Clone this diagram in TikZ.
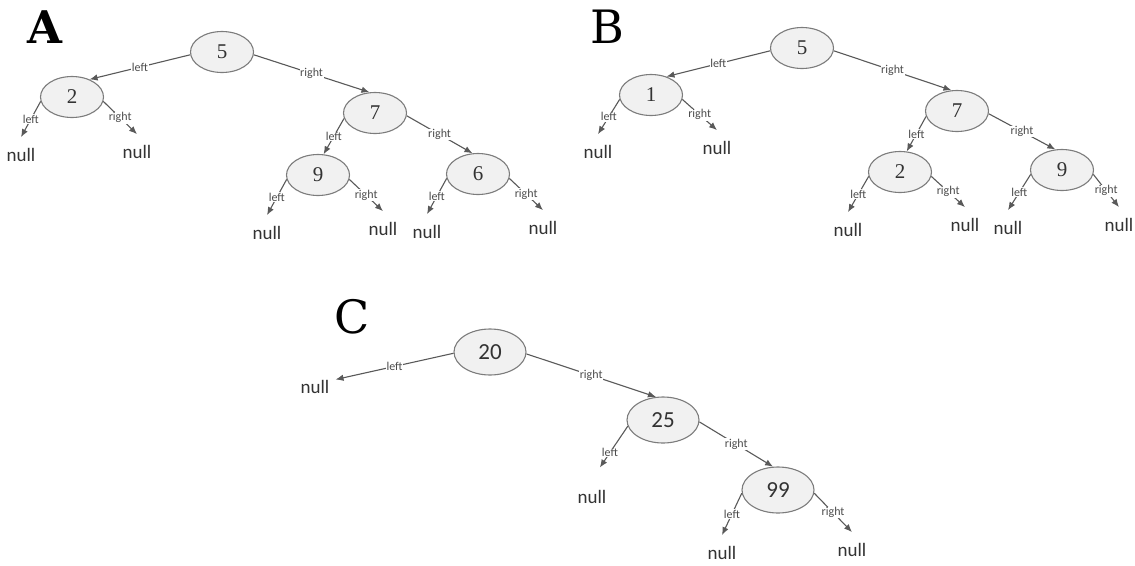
\documentclass[tikz,border=0pt]{standalone}
\usepackage{fontspec}
\newfontfamily\calfont{Carlito}
\newfontfamily\numfont{Liberation Serif}
\newfontfamily\titlefont{DejaVu Serif}
\usetikzlibrary{
	arrows.meta,
	positioning,
	shapes.geometric,
}
\definecolor{NodeFill}{HTML}{F1F1F1}
\definecolor{NodeLine}{HTML}{7C7C7C}
\definecolor{LinkGray}{HTML}{595959}

\begin{document}
\begin{tikzpicture} [
			x=1pt,y=-1pt,on grid,
			every node/.style={align=center},
			val/.style={ellipse,draw=NodeLine,fill=NodeFill,line width=1.1pt,minimum width=63pt,minimum height=41pt,inner sep=0pt,text=black!80,font=\numfont\fontsize{21}{21}\selectfont},
			bigval/.style={val,minimum width=72pt,minimum height=46pt,font=\calfont\fontsize{23}{23}\selectfont},
			nul/.style={inner xsep=6pt,inner ysep=11pt,text=black!80,font=\calfont\fontsize{19}{19}\selectfont},
			lbl/.style={fill=white,inner sep=0.6pt,text=black!70,font=\calfont\fontsize{12}{12}\selectfont},
			link/.style={draw=LinkGray,line width=1.1pt,-{Latex[length=8pt,width=6.5pt]}},
			title/.style={font=\titlefont\fontsize{46}{46}\selectfont}
		]
		\path[use as bounding box] (0,0) rectangle (1135,565);

		% tree A
		\node [title,font=\titlefont\bfseries\fontsize{45}{45}\selectfont] (titleA) at (45,27) {A};
		\node [val] (a5) at (222,52) {5};
		\node [val, below left=45pt and 150pt of a5] (a2) {2};
		\node [val, below right=61pt and 153pt of a5] (a7) {7};
		\node [val, below left=62pt and 57pt of a7] (a9) {9};
		\node [val, below right=61pt and 103pt of a7] (a6) {6};
		\node [nul, below left=58pt and 51pt of a2] (a2l) {null};
		\node [nul, below right=55pt and 65pt of a2] (a2r) {null};
		\node [nul, below left=58pt and 51pt of a9] (a9l) {null};
		\node [nul, below right=54pt and 65pt of a9] (a9r) {null};
		\node [nul, below left=58pt and 51pt of a6] (a6l) {null};
		\node [nul, below right=54pt and 65pt of a6] (a6r) {null};

		\draw[link] (a5.185) -- node[lbl] {left} (a2.45);
		\draw[link] (a5.-5) -- node[lbl] {right} (a7.105);
		\draw[link] (a7.190) -- node[lbl] {left} (a9.75);
		\draw[link] (a7.-5) -- node[lbl] {right} (a6.105);
		\draw[link] (a2.188) -- node[lbl] {left} (a2l.north);
		\draw[link] (a2.-8) -- node[lbl] {right} (a2r.north);
		\draw[link] (a9.188) -- node[lbl] {left} (a9l.north);
		\draw[link] (a9.-8) -- node[lbl] {right} (a9r.north);
		\draw[link] (a6.188) -- node[lbl] {left} (a6l.north);
		\draw[link] (a6.-8) -- node[lbl] {right} (a6r.north);

		% tree B
		\node [title] (titleB) at (607,27) {B};
		\node [val] (b5) at (802,48) {5};
		\node [val, below left=47pt and 151pt of b5] (b1) {1};
		\node [val, below right=63pt and 155pt of b5] (b7) {7};
		\node [val, below left=61pt and 57pt of b7] (b2) {2};
		\node [val, below right=59pt and 105pt of b7] (b9) {9};
		\node [nul, below left=57pt and 53pt of b1] (b1l) {null};
		\node [nul, below right=53pt and 66pt of b1] (b1r) {null};
		\node [nul, below left=58pt and 52pt of b2] (b2l) {null};
		\node [nul, below right=53pt and 65pt of b2] (b2r) {null};
		\node [nul, below left=58pt and 54pt of b9] (b9l) {null};
		\node [nul, below right=55pt and 57pt of b9] (b9r) {null};

		\draw[link] (b5.185) -- node[lbl] {left} (b1.50);
		\draw[link] (b5.-5) -- node[lbl] {right} (b7.105);
		\draw[link] (b7.190) -- node[lbl] {left} (b2.72);
		\draw[link] (b7.-5) -- node[lbl] {right} (b9.108);
		\draw[link] (b1.188) -- node[lbl] {left} (b1l.north);
		\draw[link] (b1.-8) -- node[lbl] {right} (b1r.north);
		\draw[link] (b2.188) -- node[lbl] {left} (b2l.north);
		\draw[link] (b2.-8) -- node[lbl] {right} (b2r.north);
		\draw[link] (b9.188) -- node[lbl] {left} (b9l.north);
		\draw[link] (b9.-8) -- node[lbl] {right} (b9r.north);

		% tree C
		\node [title] (titleC) at (352,317) {C};
		\node [bigval] (c20) at (490,352) {20};
		\node [nul, below left=35pt and 175pt of c20] (c20l) {null};
		\node [bigval, below right=68pt and 173pt of c20] (c25) {25};
		\node [nul, below left=77pt and 71pt of c25] (c25l) {null};
		\node [bigval, below right=70pt and 115pt of c25] (c99) {99};
		\node [nul, below left=63pt and 56pt of c99] (c99l) {null};
		\node [nul, below right=60pt and 74pt of c99] (c99r) {null};

		\draw[link] (c20.182) -- node[lbl] {left} (c20l.20);
		\draw[link] (c20.-3) -- node[lbl] {right} (c25.107);
		\draw[link,shorten >=14pt] (c25.190) -- node[lbl] {left} (c25l.north);
		\draw[link] (c25.-3) -- node[lbl] {right} (c99.102);
		\draw[link] (c99.185) -- node[lbl] {left} (c99l.north);
		\draw[link] (c99.-5) -- node[lbl] {right} (c99r.north);
	\end{tikzpicture}
\end{document}
